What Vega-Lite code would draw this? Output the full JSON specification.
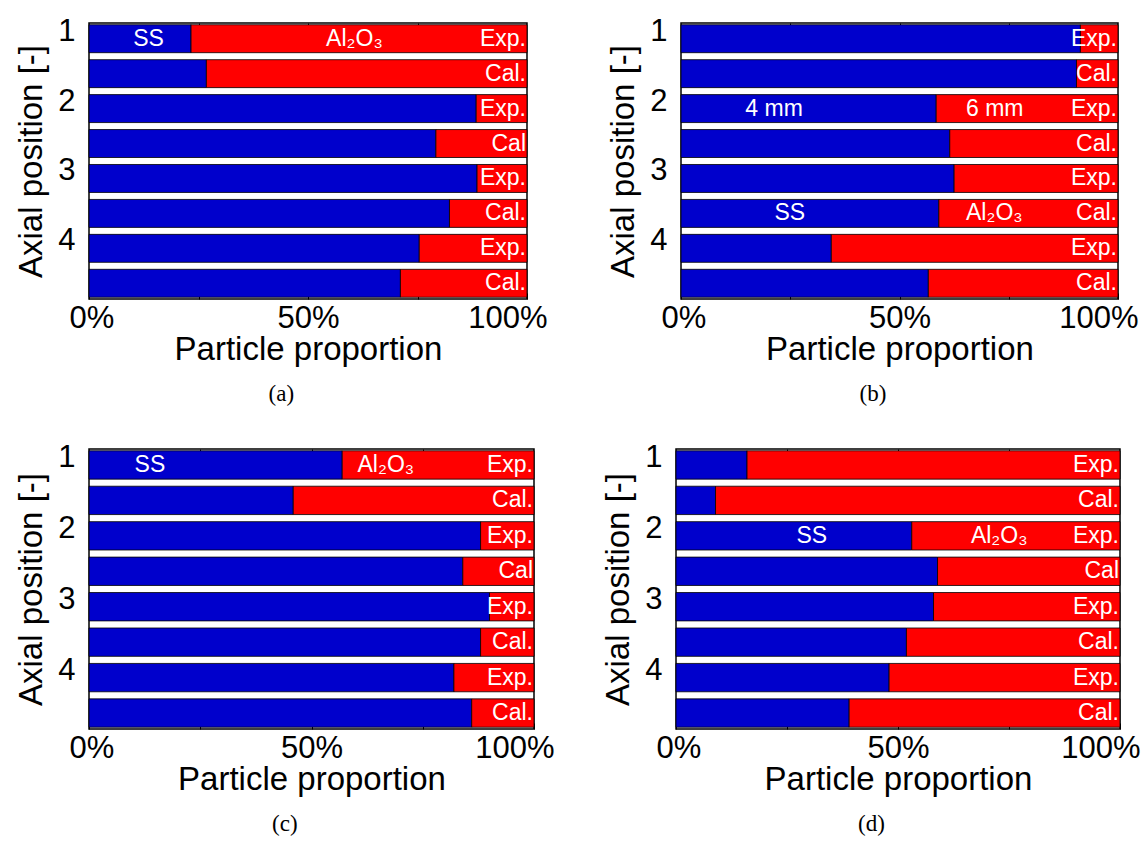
{
  "$schema": "https://vega.github.io/schema/vega-lite/v6.json",
  "background": "white",
  "padding": {"left": 15, "top": 14, "right": 3, "bottom": 0},
  "config": {
    "font": "Liberation Sans",
    "view": {"stroke": "black", "strokeWidth": 1.5},
    "axis": {"grid": false, "domain": false, "labelFont": "Liberation Sans", "labelFontSize": 31, "labelColor": "black", "titleFont": "Liberation Sans", "titleFontSize": 33, "titleFontWeight": "normal", "titleColor": "black", "tickColor": "black"},
    "title": {"font": "Liberation Serif", "fontSize": 23, "fontWeight": "normal", "color": "black", "orient": "bottom", "anchor": "middle", "frame": "bounds", "offset": 17}
  },
  "datasets": {
    "bars": [
      {"panel": "a", "row": 1, "type": "Exp.", "SS": 0.233, "Al2O3": 0.767},
      {"panel": "a", "row": 2, "type": "Cal.", "SS": 0.268, "Al2O3": 0.732},
      {"panel": "a", "row": 3, "type": "Exp.", "SS": 0.884, "Al2O3": 0.116},
      {"panel": "a", "row": 4, "type": "Cal", "SS": 0.792, "Al2O3": 0.208},
      {"panel": "a", "row": 5, "type": "Exp.", "SS": 0.886, "Al2O3": 0.114},
      {"panel": "a", "row": 6, "type": "Cal.", "SS": 0.823, "Al2O3": 0.177},
      {"panel": "a", "row": 7, "type": "Exp.", "SS": 0.754, "Al2O3": 0.246},
      {"panel": "a", "row": 8, "type": "Cal.", "SS": 0.711, "Al2O3": 0.289},
      {"panel": "b", "row": 1, "type": "Exp.", "SS": 0.914, "Al2O3": 0.086},
      {"panel": "b", "row": 2, "type": "Cal.", "SS": 0.905, "Al2O3": 0.095},
      {"panel": "b", "row": 3, "type": "Exp.", "SS": 0.584, "Al2O3": 0.416},
      {"panel": "b", "row": 4, "type": "Cal.", "SS": 0.615, "Al2O3": 0.385},
      {"panel": "b", "row": 5, "type": "Exp.", "SS": 0.625, "Al2O3": 0.375},
      {"panel": "b", "row": 6, "type": "Cal.", "SS": 0.590, "Al2O3": 0.410},
      {"panel": "b", "row": 7, "type": "Exp.", "SS": 0.344, "Al2O3": 0.656},
      {"panel": "b", "row": 8, "type": "Cal.", "SS": 0.566, "Al2O3": 0.434},
      {"panel": "c", "row": 1, "type": "Exp.", "SS": 0.569, "Al2O3": 0.431},
      {"panel": "c", "row": 2, "type": "Cal.", "SS": 0.459, "Al2O3": 0.541},
      {"panel": "c", "row": 3, "type": "Exp.", "SS": 0.880, "Al2O3": 0.120},
      {"panel": "c", "row": 4, "type": "Cal", "SS": 0.840, "Al2O3": 0.160},
      {"panel": "c", "row": 5, "type": "Exp.", "SS": 0.900, "Al2O3": 0.100},
      {"panel": "c", "row": 6, "type": "Cal.", "SS": 0.880, "Al2O3": 0.120},
      {"panel": "c", "row": 7, "type": "Exp.", "SS": 0.820, "Al2O3": 0.180},
      {"panel": "c", "row": 8, "type": "Cal.", "SS": 0.860, "Al2O3": 0.140},
      {"panel": "d", "row": 1, "type": "Exp.", "SS": 0.160, "Al2O3": 0.840},
      {"panel": "d", "row": 2, "type": "Cal.", "SS": 0.089, "Al2O3": 0.911},
      {"panel": "d", "row": 3, "type": "Exp.", "SS": 0.531, "Al2O3": 0.469},
      {"panel": "d", "row": 4, "type": "Cal", "SS": 0.589, "Al2O3": 0.411},
      {"panel": "d", "row": 5, "type": "Exp.", "SS": 0.580, "Al2O3": 0.420},
      {"panel": "d", "row": 6, "type": "Cal.", "SS": 0.519, "Al2O3": 0.481},
      {"panel": "d", "row": 7, "type": "Exp.", "SS": 0.480, "Al2O3": 0.520},
      {"panel": "d", "row": 8, "type": "Cal.", "SS": 0.390, "Al2O3": 0.610}
    ],
    "notes": [
      {"panel": "a", "row": 1, "note": "SS", "pos": 0.136},
      {"panel": "a", "row": 1, "note": "Al₂O₃", "pos": 0.606},
      {"panel": "b", "row": 3, "note": "4 mm", "pos": 0.213},
      {"panel": "b", "row": 3, "note": "6 mm", "pos": 0.718},
      {"panel": "b", "row": 6, "note": "SS", "pos": 0.249},
      {"panel": "b", "row": 6, "note": "Al₂O₃", "pos": 0.717},
      {"panel": "c", "row": 1, "note": "SS", "pos": 0.137},
      {"panel": "c", "row": 1, "note": "Al₂O₃", "pos": 0.667},
      {"panel": "d", "row": 3, "note": "SS", "pos": 0.306},
      {"panel": "d", "row": 3, "note": "Al₂O₃", "pos": 0.728}
    ]
  },
  "spacing": 33,
  "vconcat": [
    {
      "spacing": 59,
      "hconcat": [
        {
          "width": 438, "height": 276,
          "title": "(a)",
          "data": {"name": "bars"},
          "transform": [{"filter": "datum.panel == 'a'"}],
          "resolve": {"axis": {"x": "independent"}},
          "encoding": {
            "y": {"field": "row", "type": "ordinal", "scale": {"paddingInner": 0.2, "paddingOuter": 0.05},
              "axis": {"title": "Axial position [-]", "labelExpr": "datum.value == 1 ? '1' : datum.value == 3 ? '2' : datum.value == 5 ? '3' : datum.value == 7 ? '4' : ''", "ticks": false, "labelPadding": 14, "labelOffset": -7, "titlePadding": 9, "labelAngle": 0}}
          },
          "layer": [
            {
              "transform": [{"fold": ["SS", "Al2O3"], "as": ["material", "share"]}],
              "mark": {"type": "bar", "stroke": "black", "strokeWidth": 0.8},
              "encoding": {
                "x": {"field": "share", "type": "quantitative", "stack": "zero", "scale": {"domain": [0, 1], "nice": false},
                  "axis": {"title": "Particle proportion", "values": [0, 0.25, 0.5, 0.75, 1], "format": ".0%", "labelExpr": "datum.value == 0.25 || datum.value == 0.75 ? '' : datum.label", "labelFlush": true, "labelFlushOffset": 20, "tickSize": -6, "labelPadding": 10, "titlePadding": 0}},
                "color": {"field": "material", "type": "nominal", "scale": {"domain": ["SS", "Al2O3"], "range": ["#0000CC", "#FF0000"]}, "legend": null},
                "order": {"field": "material", "sort": "descending"}
              }
            },
            {
              "mark": {"type": "text", "align": "right", "baseline": "middle", "dx": -1, "color": "white", "fontSize": 23},
              "encoding": {"x": {"datum": 1, "type": "quantitative", "axis": null}, "text": {"field": "type"}}
            },
            {
              "data": {"name": "notes"},
              "transform": [{"filter": "datum.panel == 'a'"}],
              "mark": {"type": "text", "align": "center", "baseline": "middle", "color": "white", "fontSize": 23},
              "encoding": {"x": {"field": "pos", "type": "quantitative", "axis": {"orient": "top", "values": [0.25, 0.5, 0.75], "labels": false, "tickSize": -6, "title": null}}, "text": {"field": "note"}}
            }
          ]
        },
        {
          "width": 437, "height": 276,
          "title": "(b)",
          "data": {"name": "bars"},
          "transform": [{"filter": "datum.panel == 'b'"}],
          "resolve": {"axis": {"x": "independent"}},
          "encoding": {
            "y": {"field": "row", "type": "ordinal", "scale": {"paddingInner": 0.2, "paddingOuter": 0.05},
              "axis": {"title": "Axial position [-]", "labelExpr": "datum.value == 1 ? '1' : datum.value == 3 ? '2' : datum.value == 5 ? '3' : datum.value == 7 ? '4' : ''", "ticks": false, "labelPadding": 14, "labelOffset": -7, "titlePadding": 9, "labelAngle": 0}}
          },
          "layer": [
            {
              "transform": [{"fold": ["SS", "Al2O3"], "as": ["material", "share"]}],
              "mark": {"type": "bar", "stroke": "black", "strokeWidth": 0.8},
              "encoding": {
                "x": {"field": "share", "type": "quantitative", "stack": "zero", "scale": {"domain": [0, 1], "nice": false},
                  "axis": {"title": "Particle proportion", "values": [0, 0.25, 0.5, 0.75, 1], "format": ".0%", "labelExpr": "datum.value == 0.25 || datum.value == 0.75 ? '' : datum.label", "labelFlush": true, "labelFlushOffset": 20, "tickSize": -6, "labelPadding": 10, "titlePadding": 0}},
                "color": {"field": "material", "type": "nominal", "scale": {"domain": ["SS", "Al2O3"], "range": ["#0000CC", "#FF0000"]}, "legend": null},
                "order": {"field": "material", "sort": "descending"}
              }
            },
            {
              "mark": {"type": "text", "align": "right", "baseline": "middle", "dx": -1, "color": "white", "fontSize": 23},
              "encoding": {"x": {"datum": 1, "type": "quantitative", "axis": null}, "text": {"field": "type"}}
            },
            {
              "data": {"name": "notes"},
              "transform": [{"filter": "datum.panel == 'b'"}],
              "mark": {"type": "text", "align": "center", "baseline": "middle", "color": "white", "fontSize": 23},
              "encoding": {"x": {"field": "pos", "type": "quantitative", "axis": {"orient": "top", "values": [0.25, 0.5, 0.75], "labels": false, "tickSize": -6, "title": null}}, "text": {"field": "note"}}
            }
          ]
        }
      ]
    },
    {
      "spacing": 47,
      "hconcat": [
        {
          "width": 445, "height": 280,
          "title": "(c)",
          "data": {"name": "bars"},
          "transform": [{"filter": "datum.panel == 'c'"}],
          "resolve": {"axis": {"x": "independent"}},
          "encoding": {
            "y": {"field": "row", "type": "ordinal", "scale": {"paddingInner": 0.2, "paddingOuter": 0.05},
              "axis": {"title": "Axial position [-]", "labelExpr": "datum.value == 1 ? '1' : datum.value == 3 ? '2' : datum.value == 5 ? '3' : datum.value == 7 ? '4' : ''", "ticks": false, "labelPadding": 14, "labelOffset": -7, "titlePadding": 9, "labelAngle": 0}}
          },
          "layer": [
            {
              "transform": [{"fold": ["SS", "Al2O3"], "as": ["material", "share"]}],
              "mark": {"type": "bar", "stroke": "black", "strokeWidth": 0.8},
              "encoding": {
                "x": {"field": "share", "type": "quantitative", "stack": "zero", "scale": {"domain": [0, 1], "nice": false},
                  "axis": {"title": "Particle proportion", "values": [0, 0.25, 0.5, 0.75, 1], "format": ".0%", "labelExpr": "datum.value == 0.25 || datum.value == 0.75 ? '' : datum.label", "labelFlush": true, "labelFlushOffset": 20, "tickSize": -6, "labelPadding": 10, "titlePadding": 0}},
                "color": {"field": "material", "type": "nominal", "scale": {"domain": ["SS", "Al2O3"], "range": ["#0000CC", "#FF0000"]}, "legend": null},
                "order": {"field": "material", "sort": "descending"}
              }
            },
            {
              "mark": {"type": "text", "align": "right", "baseline": "middle", "dx": -1, "color": "white", "fontSize": 23},
              "encoding": {"x": {"datum": 1, "type": "quantitative", "axis": null}, "text": {"field": "type"}}
            },
            {
              "data": {"name": "notes"},
              "transform": [{"filter": "datum.panel == 'c'"}],
              "mark": {"type": "text", "align": "center", "baseline": "middle", "color": "white", "fontSize": 23},
              "encoding": {"x": {"field": "pos", "type": "quantitative", "axis": {"orient": "top", "values": [0.25, 0.5, 0.75], "labels": false, "tickSize": -6, "title": null}}, "text": {"field": "note"}}
            }
          ]
        },
        {
          "width": 444, "height": 280,
          "title": "(d)",
          "data": {"name": "bars"},
          "transform": [{"filter": "datum.panel == 'd'"}],
          "resolve": {"axis": {"x": "independent"}},
          "encoding": {
            "y": {"field": "row", "type": "ordinal", "scale": {"paddingInner": 0.2, "paddingOuter": 0.05},
              "axis": {"title": "Axial position [-]", "labelExpr": "datum.value == 1 ? '1' : datum.value == 3 ? '2' : datum.value == 5 ? '3' : datum.value == 7 ? '4' : ''", "ticks": false, "labelPadding": 14, "labelOffset": -7, "titlePadding": 9, "labelAngle": 0}}
          },
          "layer": [
            {
              "transform": [{"fold": ["SS", "Al2O3"], "as": ["material", "share"]}],
              "mark": {"type": "bar", "stroke": "black", "strokeWidth": 0.8},
              "encoding": {
                "x": {"field": "share", "type": "quantitative", "stack": "zero", "scale": {"domain": [0, 1], "nice": false},
                  "axis": {"title": "Particle proportion", "values": [0, 0.25, 0.5, 0.75, 1], "format": ".0%", "labelExpr": "datum.value == 0.25 || datum.value == 0.75 ? '' : datum.label", "labelFlush": true, "labelFlushOffset": 20, "tickSize": -6, "labelPadding": 10, "titlePadding": 0}},
                "color": {"field": "material", "type": "nominal", "scale": {"domain": ["SS", "Al2O3"], "range": ["#0000CC", "#FF0000"]}, "legend": null},
                "order": {"field": "material", "sort": "descending"}
              }
            },
            {
              "mark": {"type": "text", "align": "right", "baseline": "middle", "dx": -1, "color": "white", "fontSize": 23},
              "encoding": {"x": {"datum": 1, "type": "quantitative", "axis": null}, "text": {"field": "type"}}
            },
            {
              "data": {"name": "notes"},
              "transform": [{"filter": "datum.panel == 'd'"}],
              "mark": {"type": "text", "align": "center", "baseline": "middle", "color": "white", "fontSize": 23},
              "encoding": {"x": {"field": "pos", "type": "quantitative", "axis": {"orient": "top", "values": [0.25, 0.5, 0.75], "labels": false, "tickSize": -6, "title": null}}, "text": {"field": "note"}}
            }
          ]
        }
      ]
    }
  ]
}
